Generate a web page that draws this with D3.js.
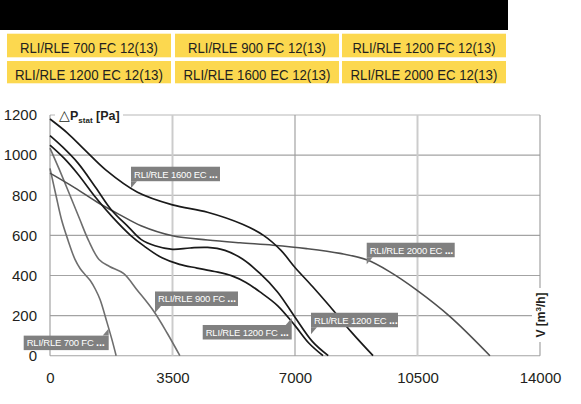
<!DOCTYPE html>
<html>
<head>
<meta charset="utf-8">
<script src="https://cdn.jsdelivr.net/npm/d3@7"></script>
<style>
  body { margin: 0; background: #fff; }
  svg { display: block; }
  .tick text { font-family: "Liberation Sans", Arial, sans-serif; fill: #231f20; }
</style>
</head>
<body>
<div id="chart"></div>
<script>
var svgWidth = 581;
var svgHeight = 404;

// header models
var models = [
  "RLI/RLE 700 FC 12(13)", "RLI/RLE 900 FC 12(13)", "RLI/RLE 1200 FC 12(13)",
  "RLI/RLE 1200 EC 12(13)", "RLI/RLE 1600 EC 12(13)", "RLI/RLE 2000 EC 12(13)"
];

var xTicks = [0, 3500, 7000, 10500, 14000];
var yTicks = [0, 200, 400, 600, 800, 1000, 1200];

// curves: [V m3/h, dP Pa]
var fc700 = [[0,934],[170,800],[334,675],[514,576],[714,480],[860,435],[1000,405],[1150,375],[1300,330],[1430,280],[1630,165],[1770,80],[1890,0]];
var fc900 = [[0,1035],[250,935],[500,830],[850,680],[1100,575],[1400,480],[1700,445],[2100,410],[2500,325],[2950,225],[3350,112],[3710,0]];
var fc1200 = [[0,1050],[400,985],[800,905],[1300,790],[1800,688],[2300,600],[2700,545],[3200,488],[3700,455],[4200,437],[4700,420],[5200,398],[5600,365],[6000,318],[6500,250],[7000,150],[7400,62],[7800,0]];
var ec1200 = [[0,1097],[350,1042],[800,960],[1300,840],[1750,728],[2250,640],[2600,580],[3000,548],[3500,530],[4000,537],[4500,540],[5000,525],[5500,482],[6000,410],[6500,318],[7000,192],[7500,70],[7950,0]];
var ec1600 = [[0,1180],[500,1110],[1000,1025],[1600,925],[2500,815],[3500,752],[4500,715],[5500,655],[6100,600],[6600,525],[7000,440],[7500,345],[8000,245],[8600,120],[9230,0]];
var ec2000 = [[0,910],[700,838],[1400,760],[2000,702],[2600,648],[3500,598],[4500,577],[5430,563],[6370,551],[7330,534],[8290,510],[9050,478],[9710,418],[10480,327],[11430,195],[12570,0]];

// label anchors (tip of the pointer), in chart units
var labelNames = ["RLI/RLE 700 FC", "RLI/RLE 900 FC", "RLI/RLE 1200 FC", "RLI/RLE 1200 EC", "RLI/RLE 1600 EC", "RLI/RLE 2000 EC"];
var labelTips = [[1677,135],[3000,213],[6906,188],[7457,107],[2314,835],[9049,456]];
var labelUp = [true, false, true, false, false, false];

var svg = d3.select("#chart")
  .append("svg")
  .attr("width", svgWidth)
  .attr("height", svgHeight);

// header band
svg.append("rect")
  .attr("x", 0).attr("y", 0)
  .attr("width", 508).attr("height", 30)
  .attr("fill", "#000");

var cols = [[7,171],[175,339],[342,506]];
var rows = [[33.7,57.3],[61,83.3]];
var baselines = [53, 79.5];
var headerW = [138, 138, 143, 148, 147, 147];
models.forEach(function(m, i) {
  var c = cols[i % 3], r = rows[Math.floor(i / 3)];
  svg.append("rect")
    .attr("x", c[0]).attr("y", r[0])
    .attr("width", c[1] - c[0]).attr("height", r[1] - r[0])
    .attr("fill", "#fcd84f");
  var t = svg.append("text")
    .style("font-family", "'Liberation Sans', Arial, sans-serif")
    .style("font-size", "15.5px")
    .style("fill", "#231f20")
    .text(m);
  var len = t.node().getComputedTextLength();
  var s = headerW[i] / len;
  t.attr("transform", `translate(${(c[0] + c[1]) / 2 - headerW[i] / 2}, ${baselines[Math.floor(i / 3)]}) scale(${s},1)`);
});

var x = d3.scaleLinear().domain([0, 14000]).range([50, 540]);
var y = d3.scaleLinear().domain([0, 1200]).range([355.7, 115]);

// grid
var grid = svg.append("g");
grid.selectAll("line.h")
  .data(yTicks)
  .enter()
  .append("line")
  .attr("x1", x(0)).attr("x2", x(14000))
  .attr("y1", d => y(d)).attr("y2", d => y(d))
  .attr("stroke", d => d == 1200 ? "#cfcfcf" : "#a3a3a3")
  .attr("stroke-width", d => d == 1200 ? 1.6 : 1.1);
grid.selectAll("line.v")
  .data(xTicks)
  .enter()
  .append("line")
  .attr("x1", d => x(d)).attr("x2", d => x(d))
  .attr("y1", y(0)).attr("y2", y(1200))
  .attr("stroke", d => (d == 3500 || d == 10500) ? "#cccccc" : "#9a9a9a")
  .attr("stroke-width", d => (d == 3500 || d == 10500) ? 2 : 1.1);

// axes (labels only)
var leftAxis = d3.axisLeft(y).tickValues(yTicks).tickSize(0).tickPadding(13).tickFormat(d3.format("d"));
var bottomAxis = d3.axisBottom(x).tickValues(xTicks).tickSize(0).tickPadding(17).tickFormat(d3.format("d"));
svg.append("g")
  .attr("transform", "translate(50,0)")
  .call(leftAxis)
  .call(g => g.select(".domain").remove())
  .selectAll("text").style("font-size", "15px");
svg.append("g")
  .attr("transform", `translate(0, ${y(0)})`)
  .call(bottomAxis)
  .call(g => g.select(".domain").remove())
  .selectAll("text").style("font-size", "15px");

// axis titles
svg.append("rect")
  .attr("x", 55).attr("y", 107).attr("width", 68).attr("height", 15)
  .attr("fill", "#fff");
var yt = svg.append("text")
  .attr("x", 59).attr("y", 119.5)
  .style("font-family", "'Liberation Sans', Arial, sans-serif")
  .style("font-weight", "bold")
  .style("font-size", "12.5px")
  .style("fill", "#231f20");
yt.append("tspan").style("font-weight", "normal").style("font-size", "14px").text("\u25B3");
yt.append("tspan").text("P");
yt.append("tspan").attr("dy", 3).style("font-size", "8px").text("stat");
yt.append("tspan").attr("dy", -3).text(" [Pa]");

svg.append("rect")
  .attr("x", 532).attr("y", 288).attr("width", 18).attr("height", 54)
  .attr("fill", "#fff");
var xt = svg.append("text")
  .attr("transform", "translate(545,315) rotate(-90)")
  .attr("text-anchor", "middle")
  .style("font-family", "'Liberation Sans', Arial, sans-serif")
  .style("font-weight", "bold")
  .style("font-size", "12px")
  .style("fill", "#231f20");
xt.append("tspan").text("V [m");
xt.append("tspan").attr("dy", -4).style("font-size", "8px").text("3");
xt.append("tspan").attr("dy", 4).text("/h]");

// curves
var line = d3.line()
  .x(d => x(d[0]))
  .y(d => y(d[1]))
  .curve(d3.curveCatmullRom.alpha(0.5));

var series = [
  { data: fc700, color: "#6e6e6e", w: 1.6 },
  { data: fc900, color: "#6e6e6e", w: 1.6 },
  { data: ec2000, color: "#505050", w: 1.6 },
  { data: fc1200, color: "#1a1a1a", w: 1.7 },
  { data: ec1200, color: "#1a1a1a", w: 1.7 },
  { data: ec1600, color: "#1a1a1a", w: 1.7 }
];
svg.append("g")
  .selectAll("path")
  .data(series)
  .enter()
  .append("path")
  .attr("d", d => line(d.data))
  .attr("fill", "none")
  .attr("stroke", d => d.color)
  .attr("stroke-width", d => d.w);

// callout labels
var boxW = [85, 83, 89, 87, 89, 88];
labelNames.forEach(function(name, i) {
  var tx = x(labelTips[i][0]), ty = y(labelTips[i][1]);
  var g = svg.append("g");
  var bx, by, tail;
  if (labelUp[i]) {
    bx = tx - boxW[i]; by = ty + 7;
    tail = `M${tx},${by} L${tx - 6},${by} L${tx},${ty} Z`;
  } else {
    bx = tx; by = ty - 7 - 14.5;
    tail = `M${tx},${ty - 7} L${tx + 6},${ty - 7} L${tx},${ty} Z`;
  }
  g.append("path").attr("d", tail).attr("fill", "#808080");
  g.append("rect")
    .attr("x", bx).attr("y", by)
    .attr("width", boxW[i]).attr("height", 14.5)
    .attr("fill", "#808080");
  var t = g.append("text")
    .attr("x", bx + 3).attr("y", by + 10.8)
    .style("font-family", "'Liberation Sans', Arial, sans-serif")
    .style("font-size", "9.5px")
    .style("letter-spacing", "-0.2px")
    .style("fill", "#fff");
  t.append("tspan").text(name + " ");
  t.append("tspan").style("font-weight", "bold").style("font-size", "11px").text("...");
});
</script>
</body>
</html>
